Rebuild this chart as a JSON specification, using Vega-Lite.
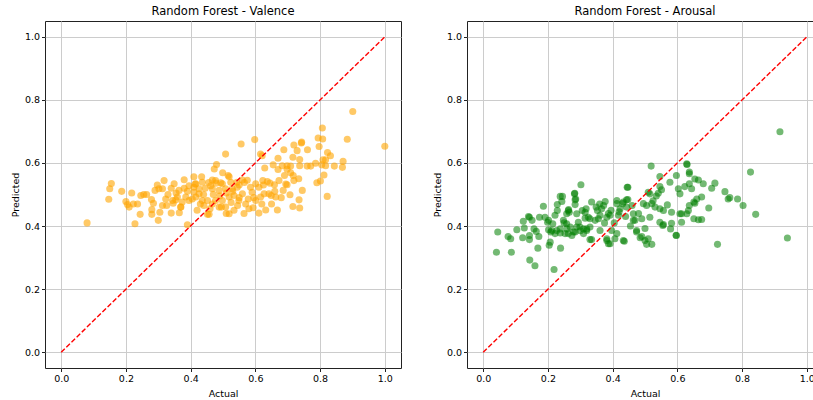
{
  "$schema": "https://vega.github.io/schema/vega-lite/v6.json",
  "padding": {"left": 9, "top": 5, "right": 0, "bottom": 0},
  "background": "white",
  "config": {
    "font": "DejaVu Sans",
    "view": {"stroke": "#222222", "strokeWidth": 1},
    "axis": {"domain": false, "labelFontSize": 9.5, "titleFontSize": 9.5, "labelColor": "#000", "titleColor": "#000", "titleFontWeight": "normal", "tickColor": "#222", "tickSize": 3.5, "labelPadding": 2, "gridColor": "#cccccc", "gridWidth": 1, "titlePadding": 4},
    "axisX": {"titlePadding": 5},
    "title": {"fontSize": 11.5, "fontWeight": "normal", "color": "#000", "offset": 4}
  },
  "datasets": {
    "diag": [{"a": 0, "p": 0}, {"a": 1, "p": 1}],
    "valence": [
      {"a":0.08,"p":0.41},{"a":0.155,"p":0.535},{"a":0.15,"p":0.518},{"a":0.147,"p":0.485},{"a":0.187,"p":0.51},{"a":0.218,"p":0.505},{"a":0.2,"p":0.478},{"a":0.205,"p":0.468},{"a":0.21,"p":0.46},{"a":0.223,"p":0.47},
      {"a":0.244,"p":0.437},{"a":0.228,"p":0.407},{"a":0.236,"p":0.47},{"a":0.246,"p":0.497},{"a":0.255,"p":0.5},{"a":0.264,"p":0.5},{"a":0.279,"p":0.484},{"a":0.285,"p":0.472},{"a":0.28,"p":0.452},{"a":0.28,"p":0.437},
      {"a":0.3,"p":0.418},{"a":0.305,"p":0.444},{"a":0.29,"p":0.513},{"a":0.297,"p":0.53},{"a":0.302,"p":0.518},{"a":0.313,"p":0.518},{"a":0.318,"p":0.544},{"a":0.313,"p":0.465},{"a":0.323,"p":0.486},{"a":0.326,"p":0.465},
      {"a":0.34,"p":0.441},{"a":0.349,"p":0.534},{"a":0.346,"p":0.472},{"a":0.354,"p":0.483},{"a":0.508,"p":0.628},{"a":0.48,"p":0.595},{"a":0.473,"p":0.581},{"a":0.434,"p":0.556},{"a":0.38,"p":0.547},{"a":0.39,"p":0.404},
      {"a":0.365,"p":0.442},{"a":0.37,"p":0.46},{"a":0.452,"p":0.437},{"a":0.534,"p":0.45},{"a":0.556,"p":0.66},{"a":0.598,"p":0.674},{"a":0.616,"p":0.628},{"a":0.629,"p":0.584},{"a":0.655,"p":0.594},{"a":0.67,"p":0.579},
      {"a":0.683,"p":0.591},{"a":0.698,"p":0.591},{"a":0.499,"p":0.569},{"a":0.516,"p":0.56},{"a":0.414,"p":0.533},{"a":0.456,"p":0.538},{"a":0.467,"p":0.546},{"a":0.478,"p":0.536},{"a":0.493,"p":0.537},{"a":0.524,"p":0.539},
      {"a":0.543,"p":0.539},{"a":0.56,"p":0.546},{"a":0.566,"p":0.538},{"a":0.601,"p":0.534},{"a":0.623,"p":0.544},{"a":0.637,"p":0.541},{"a":0.645,"p":0.536},{"a":0.659,"p":0.531},{"a":0.673,"p":0.544},{"a":0.686,"p":0.513},
      {"a":0.694,"p":0.533},{"a":0.611,"p":0.523},{"a":0.585,"p":0.523},{"a":0.627,"p":0.502},{"a":0.642,"p":0.502},{"a":0.649,"p":0.497},{"a":0.663,"p":0.492},{"a":0.616,"p":0.492},{"a":0.601,"p":0.481},{"a":0.578,"p":0.486},
      {"a":0.58,"p":0.455},{"a":0.593,"p":0.458},{"a":0.611,"p":0.441},{"a":0.632,"p":0.451},{"a":0.668,"p":0.451},{"a":0.549,"p":0.481},{"a":0.901,"p":0.763},{"a":1.0,"p":0.653},{"a":0.884,"p":0.675},{"a":0.807,"p":0.711},
      {"a":0.794,"p":0.679},{"a":0.808,"p":0.676},{"a":0.797,"p":0.652},{"a":0.823,"p":0.633},{"a":0.832,"p":0.623},{"a":0.817,"p":0.61},{"a":0.809,"p":0.61},{"a":0.871,"p":0.605},{"a":0.869,"p":0.586},{"a":0.844,"p":0.59},
      {"a":0.817,"p":0.591},{"a":0.805,"p":0.594},{"a":0.786,"p":0.599},{"a":0.812,"p":0.562},{"a":0.801,"p":0.543},{"a":0.79,"p":0.537},{"a":0.822,"p":0.494},{"a":0.743,"p":0.666},{"a":0.719,"p":0.657},{"a":0.729,"p":0.639},
      {"a":0.761,"p":0.642},{"a":0.716,"p":0.618},{"a":0.737,"p":0.611},{"a":0.688,"p":0.642},{"a":0.771,"p":0.59},{"a":0.76,"p":0.59},{"a":0.737,"p":0.591},{"a":0.709,"p":0.59},{"a":0.698,"p":0.58},{"a":0.709,"p":0.569},
      {"a":0.717,"p":0.56},{"a":0.734,"p":0.55},{"a":0.719,"p":0.544},{"a":0.698,"p":0.531},{"a":0.745,"p":0.513},{"a":0.707,"p":0.499},{"a":0.735,"p":0.483},{"a":0.716,"p":0.462},{"a":0.737,"p":0.457},{"a":0.385,"p":0.492},
      {"a":0.374,"p":0.476},{"a":0.369,"p":0.46},{"a":0.41,"p":0.523},{"a":0.41,"p":0.507},{"a":0.405,"p":0.486},{"a":0.426,"p":0.502},{"a":0.436,"p":0.481},{"a":0.452,"p":0.481},{"a":0.467,"p":0.47},{"a":0.477,"p":0.481},
      {"a":0.498,"p":0.481},{"a":0.519,"p":0.492},{"a":0.534,"p":0.497},{"a":0.56,"p":0.502},{"a":0.457,"p":0.437},{"a":0.441,"p":0.465},{"a":0.488,"p":0.46},{"a":0.508,"p":0.46},{"a":0.467,"p":0.518},{"a":0.488,"p":0.513},
      {"a":0.508,"p":0.518},{"a":0.529,"p":0.518},{"a":0.544,"p":0.523},{"a":0.462,"p":0.528},{"a":0.519,"p":0.556},{"a":0.59,"p":0.507},{"a":0.359,"p":0.492},{"a":0.364,"p":0.513},{"a":0.344,"p":0.481},{"a":0.395,"p":0.528},
      {"a":0.426,"p":0.518},{"a":0.436,"p":0.539},{"a":0.416,"p":0.534},{"a":0.41,"p":0.556},{"a":0.519,"p":0.439},{"a":0.477,"p":0.544},{"a":0.498,"p":0.534},{"a":0.55,"p":0.53},{"a":0.445,"p":0.52},{"a":0.395,"p":0.481},
      {"a":0.416,"p":0.492},{"a":0.44,"p":0.5},{"a":0.47,"p":0.5},{"a":0.49,"p":0.495},{"a":0.51,"p":0.505},{"a":0.53,"p":0.51},{"a":0.55,"p":0.49},{"a":0.57,"p":0.47},{"a":0.525,"p":0.475},{"a":0.545,"p":0.465},
      {"a":0.495,"p":0.46},{"a":0.46,"p":0.455},{"a":0.43,"p":0.47},{"a":0.42,"p":0.45},{"a":0.51,"p":0.44},{"a":0.565,"p":0.44},{"a":0.595,"p":0.49},{"a":0.62,"p":0.47},{"a":0.65,"p":0.47},{"a":0.66,"p":0.51},
      {"a":0.68,"p":0.49},{"a":0.69,"p":0.56},{"a":0.67,"p":0.615},{"a":0.625,"p":0.53},{"a":0.575,"p":0.545},{"a":0.34,"p":0.52},{"a":0.33,"p":0.5},{"a":0.355,"p":0.505},{"a":0.39,"p":0.51},{"a":0.38,"p":0.52},
      {"a":0.621,"p":0.623},{"a":0.742,"p":0.663}
    ],
    "arousal": [
      {"a":0.045,"p":0.381},{"a":0.041,"p":0.317},{"a":0.087,"p":0.317},{"a":0.077,"p":0.367},{"a":0.085,"p":0.36},{"a":0.104,"p":0.388},{"a":0.124,"p":0.415},{"a":0.122,"p":0.363},{"a":0.143,"p":0.428},{"a":0.151,"p":0.418},
      {"a":0.127,"p":0.394},{"a":0.157,"p":0.391},{"a":0.164,"p":0.383},{"a":0.143,"p":0.37},{"a":0.143,"p":0.357},{"a":0.172,"p":0.367},{"a":0.169,"p":0.33},{"a":0.144,"p":0.292},{"a":0.16,"p":0.274},{"a":0.219,"p":0.262},
      {"a":0.207,"p":0.349},{"a":0.204,"p":0.339},{"a":0.239,"p":0.33},{"a":0.186,"p":0.463},{"a":0.174,"p":0.428},{"a":0.191,"p":0.428},{"a":0.199,"p":0.412},{"a":0.215,"p":0.407},{"a":0.229,"p":0.468},{"a":0.222,"p":0.434},
      {"a":0.238,"p":0.494},{"a":0.245,"p":0.494},{"a":0.243,"p":0.478},{"a":0.283,"p":0.504},{"a":0.284,"p":0.483},{"a":0.284,"p":0.468},{"a":0.302,"p":0.531},{"a":0.264,"p":0.452},{"a":0.289,"p":0.439},{"a":0.315,"p":0.425},
      {"a":0.335,"p":0.476},{"a":0.377,"p":0.478},{"a":0.445,"p":0.523},{"a":0.436,"p":0.352},{"a":0.387,"p":0.344},{"a":0.33,"p":0.357},{"a":0.325,"p":0.428},{"a":0.258,"p":0.407},{"a":0.248,"p":0.418},{"a":0.269,"p":0.397},
      {"a":0.279,"p":0.381},{"a":0.299,"p":0.397},{"a":0.238,"p":0.391},{"a":0.253,"p":0.376},{"a":0.212,"p":0.386},{"a":0.202,"p":0.388},{"a":0.353,"p":0.449},{"a":0.361,"p":0.434},{"a":0.346,"p":0.418},{"a":0.366,"p":0.455},
      {"a":0.382,"p":0.428},{"a":0.392,"p":0.434},{"a":0.413,"p":0.471},{"a":0.423,"p":0.455},{"a":0.433,"p":0.476},{"a":0.443,"p":0.483},{"a":0.464,"p":0.418},{"a":0.474,"p":0.386},{"a":0.382,"p":0.36},{"a":0.413,"p":0.376},
      {"a":0.397,"p":0.386},{"a":0.31,"p":0.391},{"a":0.33,"p":0.397},{"a":0.258,"p":0.439},{"a":0.315,"p":0.444},{"a":0.282,"p":0.502},{"a":0.286,"p":0.486},{"a":0.229,"p":0.449},{"a":0.263,"p":0.449},{"a":0.266,"p":0.444},
      {"a":0.306,"p":0.449},{"a":0.318,"p":0.455},{"a":0.14,"p":0.43},{"a":0.202,"p":0.418},{"a":0.209,"p":0.381},{"a":0.222,"p":0.376},{"a":0.227,"p":0.386},{"a":0.238,"p":0.378},{"a":0.25,"p":0.41},{"a":0.259,"p":0.391},
      {"a":0.263,"p":0.376},{"a":0.274,"p":0.37},{"a":0.284,"p":0.381},{"a":0.289,"p":0.397},{"a":0.294,"p":0.412},{"a":0.3,"p":0.385},{"a":0.31,"p":0.376},{"a":0.32,"p":0.391},{"a":0.33,"p":0.423},{"a":0.519,"p":0.59},
      {"a":0.447,"p":0.523},{"a":0.546,"p":0.557},{"a":0.577,"p":0.539},{"a":0.597,"p":0.56},{"a":0.63,"p":0.595},{"a":0.637,"p":0.566},{"a":0.603,"p":0.518},{"a":0.608,"p":0.502},{"a":0.623,"p":0.525},{"a":0.546,"p":0.525},
      {"a":0.551,"p":0.515},{"a":0.541,"p":0.504},{"a":0.51,"p":0.507},{"a":0.515,"p":0.502},{"a":0.495,"p":0.471},{"a":0.505,"p":0.465},{"a":0.521,"p":0.471},{"a":0.531,"p":0.46},{"a":0.546,"p":0.455},{"a":0.557,"p":0.449},
      {"a":0.569,"p":0.467},{"a":0.582,"p":0.444},{"a":0.608,"p":0.439},{"a":0.634,"p":0.449},{"a":0.447,"p":0.484},{"a":0.431,"p":0.471},{"a":0.42,"p":0.445},{"a":0.464,"p":0.439},{"a":0.469,"p":0.418},{"a":0.49,"p":0.423},
      {"a":0.515,"p":0.428},{"a":0.546,"p":0.412},{"a":0.557,"p":0.405},{"a":0.582,"p":0.409},{"a":0.597,"p":0.37},{"a":0.474,"p":0.381},{"a":0.485,"p":0.363},{"a":0.5,"p":0.354},{"a":0.51,"p":0.36},{"a":0.521,"p":0.342},
      {"a":0.505,"p":0.342},{"a":0.433,"p":0.354},{"a":0.407,"p":0.36},{"a":0.392,"p":0.344},{"a":0.382,"p":0.354},{"a":0.335,"p":0.357},{"a":0.361,"p":0.386},{"a":0.32,"p":0.386},{"a":0.349,"p":0.46},{"a":0.372,"p":0.465},
      {"a":0.387,"p":0.44},{"a":0.356,"p":0.423},{"a":0.413,"p":0.481},{"a":0.418,"p":0.434},{"a":0.443,"p":0.46},{"a":0.917,"p":0.699},{"a":0.94,"p":0.362},{"a":0.826,"p":0.571},{"a":0.842,"p":0.437},{"a":0.803,"p":0.465},
      {"a":0.786,"p":0.486},{"a":0.762,"p":0.49},{"a":0.757,"p":0.486},{"a":0.747,"p":0.509},{"a":0.716,"p":0.536},{"a":0.706,"p":0.52},{"a":0.724,"p":0.342},{"a":0.697,"p":0.457},{"a":0.675,"p":0.492},{"a":0.66,"p":0.486},
      {"a":0.68,"p":0.534},{"a":0.665,"p":0.546},{"a":0.654,"p":0.549},{"a":0.637,"p":0.571},{"a":0.644,"p":0.518},{"a":0.637,"p":0.534},{"a":0.654,"p":0.472},{"a":0.637,"p":0.465},{"a":0.629,"p":0.439},{"a":0.613,"p":0.439},
      {"a":0.651,"p":0.423},{"a":0.665,"p":0.42},{"a":0.675,"p":0.421},{"a":0.613,"p":0.412},{"a":0.596,"p":0.371},{"a":0.5,"p":0.392},{"a":0.49,"p":0.367},{"a":0.555,"p":0.402},{"a":0.579,"p":0.391},{"a":0.651,"p":0.476},
      {"a":0.525,"p":0.48},{"a":0.535,"p":0.495},{"a":0.46,"p":0.465},{"a":0.48,"p":0.44},{"a":0.395,"p":0.45},{"a":0.405,"p":0.41},{"a":0.44,"p":0.43},{"a":0.455,"p":0.4},{"a":0.375,"p":0.41},{"a":0.36,"p":0.47},
      {"a":0.629,"p":0.597}
    ]
  },
  "spacing": 29,
  "hconcat": [
    {
      "title": "Random Forest - Valence",
      "width": 356,
      "height": 347,
      "layer": [
        {
          "data": {"name": "valence"},
          "mark": {"type": "circle", "size": 50, "color": "#FFA500", "opacity": 0.6},
          "encoding": {
            "x": {"field": "a", "type": "quantitative", "title": "Actual", "scale": {"domain": [-0.05, 1.05], "nice": false, "zero": false}, "axis": {"values": [0, 0.2, 0.4, 0.6, 0.8, 1.0], "format": ".1f"}},
            "y": {"field": "p", "type": "quantitative", "title": "Predicted", "scale": {"domain": [-0.05, 1.05], "nice": false, "zero": false}, "axis": {"values": [0, 0.2, 0.4, 0.6, 0.8, 1.0], "format": ".1f"}}
          }
        },
        {
          "data": {"name": "diag"},
          "mark": {"type": "line", "color": "red", "strokeWidth": 1.4, "strokeDash": [5, 2.2]},
          "encoding": {
            "x": {"field": "a", "type": "quantitative"},
            "y": {"field": "p", "type": "quantitative"}
          }
        }
      ]
    },
    {
      "title": "Random Forest - Arousal",
      "width": 356,
      "height": 347,
      "layer": [
        {
          "data": {"name": "arousal"},
          "mark": {"type": "circle", "size": 50, "color": "green", "opacity": 0.55},
          "encoding": {
            "x": {"field": "a", "type": "quantitative", "title": "Actual", "scale": {"domain": [-0.05, 1.05], "nice": false, "zero": false}, "axis": {"values": [0, 0.2, 0.4, 0.6, 0.8, 1.0], "format": ".1f"}},
            "y": {"field": "p", "type": "quantitative", "title": "Predicted", "scale": {"domain": [-0.05, 1.05], "nice": false, "zero": false}, "axis": {"values": [0, 0.2, 0.4, 0.6, 0.8, 1.0], "format": ".1f"}}
          }
        },
        {
          "data": {"name": "diag"},
          "mark": {"type": "line", "color": "red", "strokeWidth": 1.4, "strokeDash": [5, 2.2]},
          "encoding": {
            "x": {"field": "a", "type": "quantitative"},
            "y": {"field": "p", "type": "quantitative"}
          }
        }
      ]
    }
  ]
}
